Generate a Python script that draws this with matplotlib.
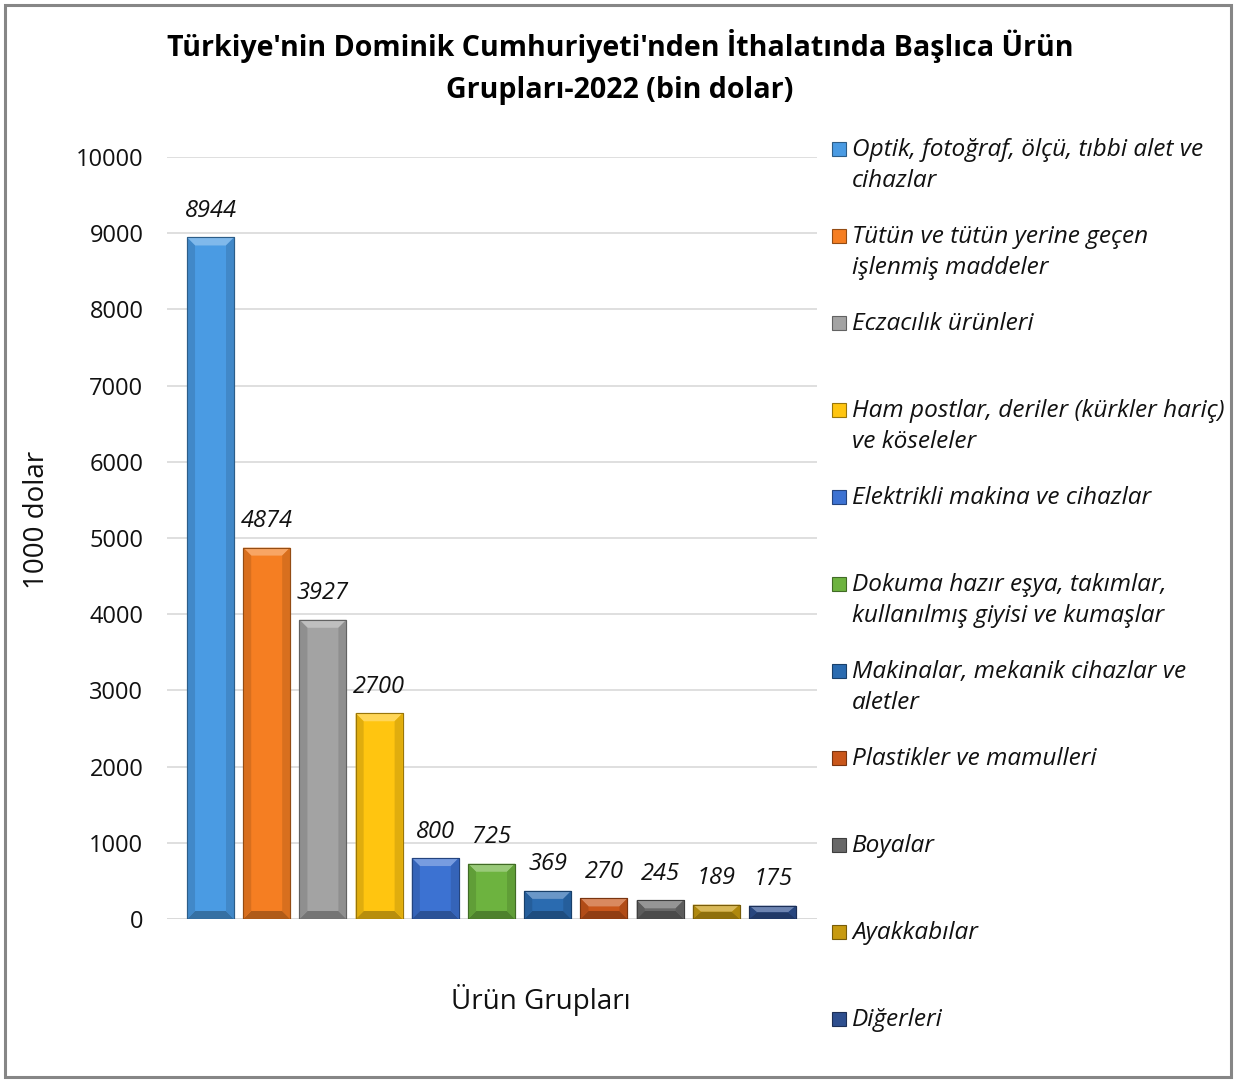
import matplotlib
matplotlib.use("Agg")
import matplotlib.pyplot as plt
from matplotlib.patches import Polygon, Rectangle
from matplotlib.colors import to_rgb
import numpy as np

# chart data
categories = [
    "Optik, fotoğraf, ölçü, tıbbi alet ve\ncihazlar",
    "Tütün ve tütün yerine geçen\nişlenmiş maddeler",
    "Eczacılık ürünleri",
    "Ham postlar, deriler (kürkler hariç)\nve köseleler",
    "Elektrikli makina ve cihazlar",
    "Dokuma hazır eşya, takımlar,\nkullanılmış giyisi ve kumaşlar",
    "Makinalar, mekanik cihazlar ve\naletler",
    "Plastikler ve mamulleri",
    "Boyalar",
    "Ayakkabılar",
    "Diğerleri",
]
values = [8944, 4874, 3927, 2700, 800, 725, 369, 270, 245, 189, 175]
colors = ["#4A9BE3", "#F57E22", "#A3A3A3", "#FFC510", "#3C72D2", "#6DB33F",
          "#2A6BB0", "#C9561A", "#686868", "#C79A10", "#2E4F8F"]
yticks = [0, 1000, 2000, 3000, 4000, 5000, 6000, 7000, 8000, 9000, 10000]

plt.rcParams['font.family'] = ['Open Sans', 'DejaVu Sans']

W, H = 1236, 1081
fig = plt.figure(figsize=(W / 100, H / 100), dpi=100)
ax = fig.add_axes([167 / W, 1 - 919 / H, 650 / W, 762 / H])


def mix(c, other, t):
    c = np.array(to_rgb(c))
    return tuple(c * (1 - t) + np.array(other) * t)


x = np.arange(len(values))
bw = 0.836
bars = ax.bar(x, values, width=bw, color=colors, zorder=2,
              edgecolor=[mix(c, (0, 0, 0), 0.35) for c in colors], linewidth=0.8)

# bevel look on each bar
px_x = 1 / 56.2
px_y = 10000 / 762
for b, c in zip(bars, colors):
    x0, x1 = b.get_x(), b.get_x() + b.get_width()
    h = b.get_height()
    bx = 8 * px_x
    by = min(8 * px_y, h / 2)
    light = mix(c, (1, 1, 1), 0.3)
    dark = mix(c, (0, 0, 0), 0.28)
    side = mix(c, (0, 0, 0), 0.12)
    ax.add_patch(Polygon([(x0, h), (x1, h), (x1 - bx, h - by), (x0 + bx, h - by)],
                         closed=True, facecolor=light, edgecolor='none', zorder=3))
    ax.add_patch(Polygon([(x0, 0), (x1, 0), (x1 - bx, by), (x0 + bx, by)],
                         closed=True, facecolor=dark, edgecolor='none', zorder=3))
    ax.add_patch(Polygon([(x1, 0), (x1, h), (x1 - bx, h - by), (x1 - bx, by)],
                         closed=True, facecolor=side, edgecolor='none', zorder=3))
    ax.add_patch(Polygon([(x0, 0), (x0, h), (x0 + bx, h - by), (x0 + bx, by)],
                         closed=True, facecolor=side, edgecolor='none', zorder=3))
    ax.add_patch(Rectangle((x0, 0), x1 - x0, h, facecolor='none',
                           edgecolor=mix(c, (0, 0, 0), 0.4), linewidth=0.8, zorder=4))
    ax.annotate(f"{int(h)}", (b.get_x() + b.get_width() / 2, h), xytext=(0, 19),
                textcoords='offset points', ha='center', va='center',
                fontsize=17, style='italic', color='#111111')

ax.set_xlim(-0.774, 10.79)
ax.set_ylim(0, 10000)
ax.set_yticks(yticks)
ax.set_yticklabels([str(t) for t in yticks], fontsize=17, color='#111111')
ax.set_xticks([])
ax.tick_params(axis='y', length=0, pad=17)
ax.grid(axis='y', color='#D9D9D9', linewidth=1.2, zorder=0)
ax.set_axisbelow(True)
for s in ax.spines.values():
    s.set_visible(False)
ax.axhline(0, color='#D9D9D9', linewidth=1.2, zorder=1)

# title and axis labels
fig.text(620 / W, 1 - 67 / H,
         "Türkiye'nin Dominik Cumhuriyeti'nden İthalatında Başlıca Ürün\nGrupları-2022 (bin dolar)",
         ha='center', va='center', fontsize=20.6, fontweight='bold', linespacing=1.55)
fig.text(37 / W, 1 - 520 / H, "1000 dolar", rotation=90, ha='center', va='center',
         fontsize=20, color='#111111')
fig.text(541 / W, 1 - 1000 / H, "Ürün Grupları", ha='center', va='center',
         fontsize=20, color='#111111')

# legend drawn by hand so the marker sits on the first text line
for i, (lab, c) in enumerate(zip(categories, colors)):
    yc = 149 + 87 * i
    fig.add_artist(Rectangle((832 / W, 1 - (yc + 7) / H), 14 / W, 14 / H,
                             transform=fig.transFigure, facecolor=c,
                             edgecolor=mix(c, (0, 0, 0), 0.4), linewidth=0.8))
    fig.text(852 / W, 1 - (yc - 11) / H, lab, ha='left', va='top', fontsize=17.6,
             style='italic', linespacing=1.38, color='#111111')

# outer frame
fig.add_artist(Rectangle((5 / W, 4 / H), 1226 / W, 1072 / H, transform=fig.transFigure,
                         facecolor='none', edgecolor='#868686', linewidth=2.2))

fig.savefig("out.png", dpi=100)
